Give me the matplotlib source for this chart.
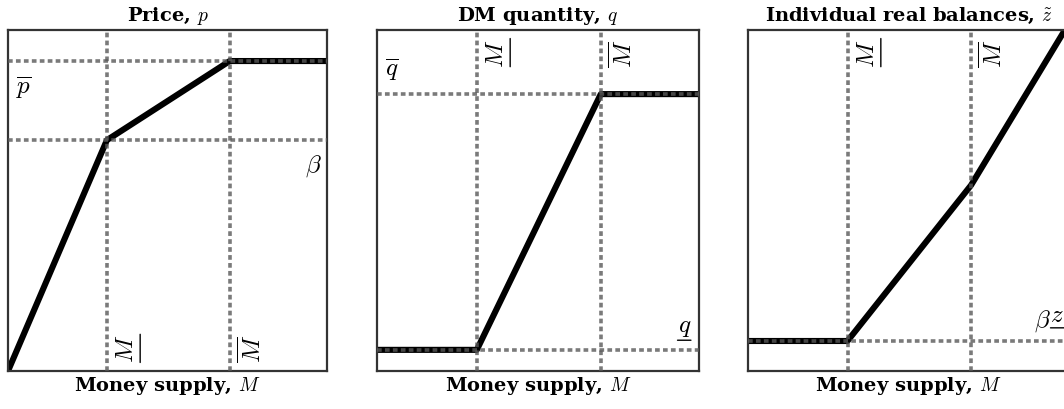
import numpy as np
import matplotlib
matplotlib.use('Agg')
import matplotlib.pyplot as plt

plt.rcParams['mathtext.fontset'] = 'cm'
plt.rcParams['font.family'] = 'serif'
plt.rcParams['font.serif'] = ['DejaVu Serif']

# Money supply grid: zero, lower threshold, upper threshold, max
M = np.array([0.0, 0.31, 0.695, 1.0])
M_low = M[1]
M_high = M[2]

# Price
p = np.array([0.0, 0.677, 0.909, 0.909])
beta = p[1]
p_bar = p[2]

# DM quantity
q = np.array([0.062, 0.062, 0.812, 0.812])
q_low = q[0]
q_bar = q[2]

# Individual real balances
z = np.array([0.088, 0.088, 0.545, 1.02])
beta_z_low = z[0]

titles = [r'Price, $p$',
          r'DM quantity, $q$',
          r'Individual real balances, $\tilde{z}$']

dot = dict(color='0.35', alpha=0.8, lw=2.6, ls=(0, (1.3, 0.9)), zorder=3)
lab = dict(fontsize=18)
head = dict(fontsize=14, fontweight='bold')

fig = plt.figure(figsize=(10.64, 4.10), dpi=100)
H = 410.0
W = 1064.0
lefts = [8, 377, 748]
widths = [319, 322, 321]
axes = [fig.add_axes([l / W, 38 / H, w / W, 341 / H]) for l, w in zip(lefts, widths)]


def setup(ax, title):
    ax.set_xlim(0, 1)
    ax.set_ylim(0, 1)
    ax.set_xticks([])
    ax.set_yticks([])
    for s in ax.spines.values():
        s.set_color('0.2')
        s.set_linewidth(1.6)
    ax.set_title(title, pad=7, **head)
    ax.set_xlabel(r'Money supply, $M$', labelpad=2, **head)


# mathtext has no \underline, so draw the rule next to the text box
def underline(ax, t, rotated=False):
    if rotated:
        a, b = (1.1, 0.0), (1.1, 1.0)
    else:
        a, b = (0.0, -0.1), (1.0, -0.1)
    ax.annotate('', xy=b, xycoords=t, xytext=a, textcoords=t,
                arrowprops=dict(arrowstyle='-', lw=1.0, color='k',
                                shrinkA=0, shrinkB=0))


def m_labels(ax, y, va):
    t = ax.text(M_low + 0.025, y, r'$M$', rotation=90, ha='left', va=va, **lab)
    underline(ax, t, rotated=True)
    ax.text(M_high + 0.025, y, r'$\overline{M}$', rotation=90, ha='left', va=va, **lab)


for ax, t in zip(axes, titles):
    setup(ax, t)
    ax.axvline(M_low, **dot)
    ax.axvline(M_high, **dot)

# Price panel
ax = axes[0]
ax.plot(M, p, color='k', lw=4.4, zorder=2, solid_joinstyle='round')
ax.axhline(p_bar, **dot)
ax.axhline(beta, **dot)
ax.text(0.025, p_bar - 0.035, r'$\overline{p}$', ha='left', va='top', **lab)
ax.text(0.985, beta - 0.035, r'$\beta$', ha='right', va='top', **lab)
m_labels(ax, 0.025, 'bottom')

# DM quantity panel
ax = axes[1]
ax.plot(M, q, color='k', lw=4.4, zorder=2, solid_joinstyle='round')
ax.axhline(q_bar, **dot)
ax.axhline(q_low, **dot)
ax.text(0.025, q_bar + 0.035, r'$\overline{q}$', ha='left', va='bottom', **lab)
tq = ax.text(0.975, q_low + 0.035, r'$q$', ha='right', va='bottom', **lab)
underline(ax, tq)
m_labels(ax, 0.975, 'top')

# Real balances panel
ax = axes[2]
ax.plot(M, z, color='k', lw=4.4, zorder=2, solid_joinstyle='round')
ax.axhline(beta_z_low, **dot)
tz = ax.text(0.985, beta_z_low + 0.06, r'$z$', ha='right', va='baseline', **lab)
underline(ax, tz)
ax.annotate(r'$\beta$', xy=(0, 0), xycoords=tz, ha='right', va='baseline', **lab)
m_labels(ax, 0.975, 'top')

fig.savefig('out.png', dpi=100)
